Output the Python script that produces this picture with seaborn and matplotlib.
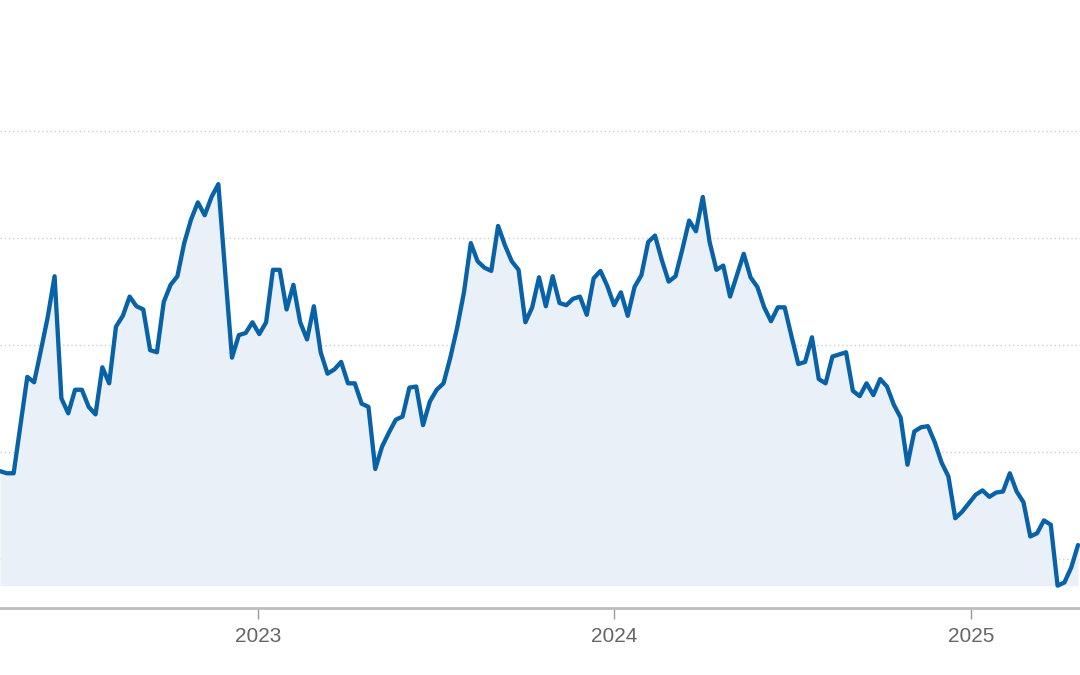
import matplotlib
matplotlib.use("Agg")
import matplotlib.pyplot as plt
import numpy as np
import pandas as pd
import seaborn as sns

# weekly values (no axis labels visible, so units are relative)
start_date = "2022-04-11"
values = [
    18.2, 18.0, 18.0, 22.5, 27.0, 26.5, 29.5, 32.6, 36.4, 25.0,
    23.6, 25.8, 25.8, 24.2, 23.5, 27.9, 26.4, 31.7, 32.7, 34.5,
    33.6, 33.3, 29.5, 29.3, 34.0, 35.6, 36.4, 39.5, 41.7, 43.3,
    42.1, 43.8, 45.0, 36.8, 28.8, 30.9, 31.1, 32.1, 31.0, 32.1,
    37.0, 37.0, 33.3, 35.6, 32.1, 30.5, 33.6, 29.3, 27.3, 27.7,
    28.4, 26.4, 26.4, 24.5, 24.2, 18.4, 20.5, 21.8, 23.0, 23.3,
    26.0, 26.1, 22.5, 24.7, 25.8, 26.4, 28.8, 31.6, 34.9, 39.5,
    37.8, 37.2, 36.9, 41.1, 39.3, 37.8, 37.0, 32.1, 33.5, 36.3,
    33.6, 36.4, 33.9, 33.7, 34.3, 34.5, 32.8, 36.2, 36.9, 35.5,
    33.7, 34.9, 32.7, 35.4, 36.5, 39.6, 40.2, 37.9, 35.9, 36.4,
    38.9, 41.6, 40.6, 43.8, 39.6, 37.0, 37.4, 34.5, 36.5, 38.5,
    36.3, 35.4, 33.5, 32.2, 33.5, 33.5, 30.8, 28.2, 28.4, 30.7,
    26.8, 26.4, 28.9, 29.1, 29.3, 25.7, 25.2, 26.4, 25.3, 26.8,
    26.1, 24.4, 23.2, 18.8, 21.9, 22.3, 22.4, 20.9, 19.0, 17.7,
    13.8, 14.4, 15.2, 16.0, 16.4, 15.8, 16.2, 16.3, 18.0, 16.3,
    15.3, 12.1, 12.4, 13.6, 13.2, 7.5, 7.8, 9.2, 11.3,
]
grid_values = [10, 20, 30, 40, 50]
year_ticks = ["2023-01-01", "2024-01-01", "2025-01-01"]
year_labels = ["2023", "2024", "2025"]

dates = pd.date_range(start_date, periods=len(values), freq="7D")
df = pd.DataFrame({"date": dates, "value": values})

line_color = "#0862a8"
fill_color = "#e9f0f7"

sns.set_style("white")
plt.rcParams["font.family"] = ["Liberation Sans", "DejaVu Sans"]

fig = plt.figure(figsize=(10.8, 6.75), dpi=100)
ax = fig.add_axes([0.0, 0.0993, 1.0, 0.9007])

ax.fill_between(df["date"], df["value"], df["value"].min(), color=fill_color, lw=0, zorder=1)
sns.lineplot(data=df, x="date", y="value", ax=ax, color=line_color, lw=3.1, zorder=3,
             solid_joinstyle="round", solid_capstyle="round")

ax.set_xlim(dates[0], dates[-1] + pd.Timedelta(days=2))
ax.set_ylim(5.42, 62.2)

# dotted horizontal gridlines
for g in grid_values:
    ax.axhline(g, color="#cfcfcf", lw=1, ls=(0, (1, 2)), zorder=0)

ax.set_yticks([])
ax.set_xticks(pd.to_datetime(year_ticks))
ax.set_xticklabels(year_labels, fontsize=15, color="#666666")
ax.tick_params(axis="x", bottom=True, direction="out", length=8, width=1,
               color="#999999", pad=6)
ax.set_xlabel("")
ax.set_ylabel("")

for side in ["top", "left", "right"]:
    ax.spines[side].set_visible(False)
ax.spines["bottom"].set_color("#bdbdbd")
ax.spines["bottom"].set_linewidth(2)

fig.savefig("out.png", dpi=100)
